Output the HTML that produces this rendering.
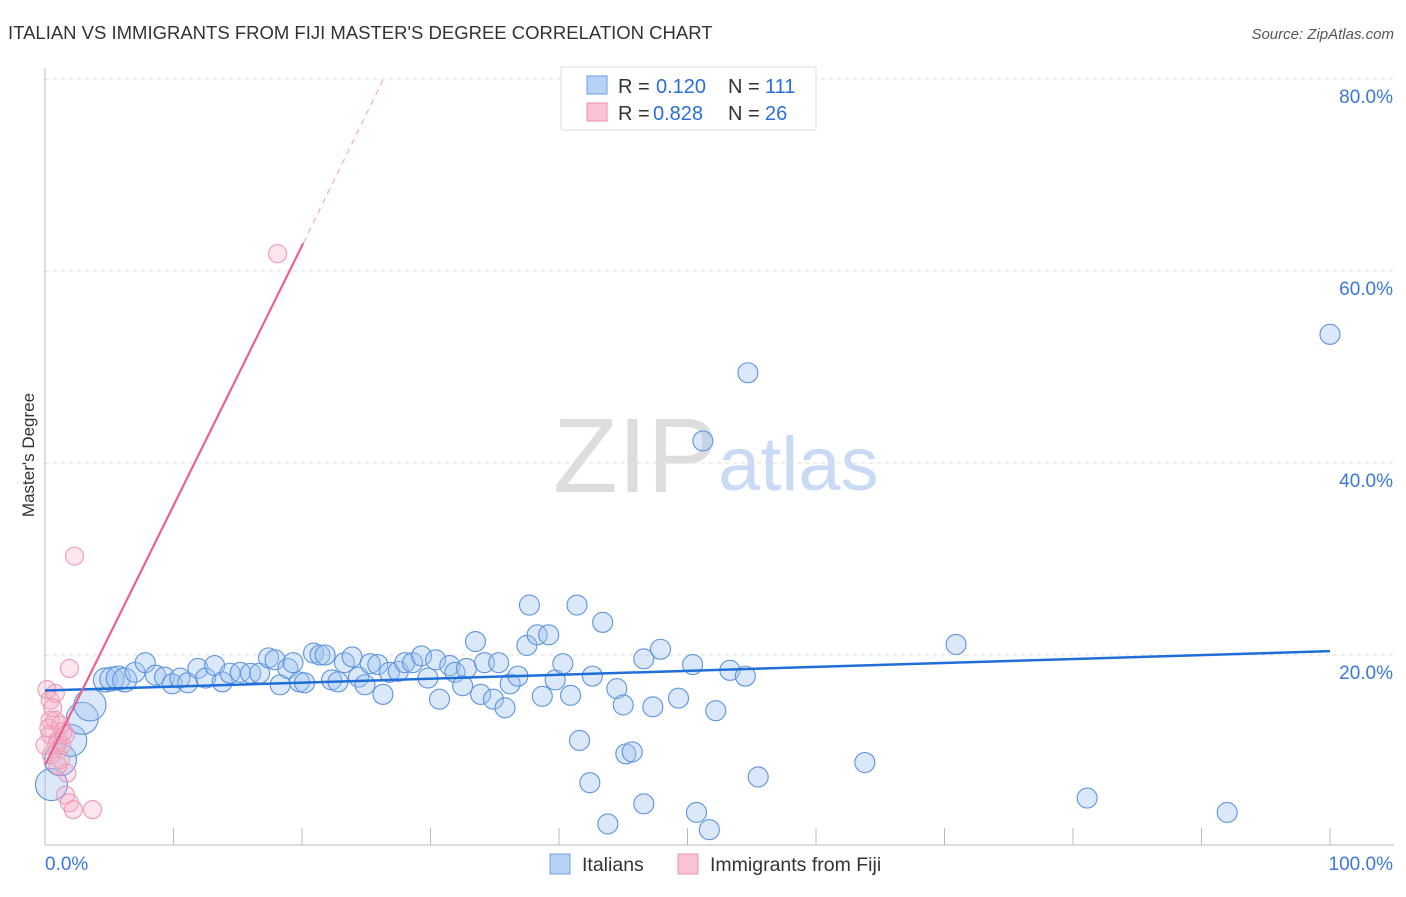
<!DOCTYPE html>
<html><head><meta charset="utf-8"><style>
body{margin:0;background:#fff;font-family:"Liberation Sans",sans-serif;}
svg text{font-family:"Liberation Sans",sans-serif;}
</style></head><body>
<svg width="1406" height="892" xmlns="http://www.w3.org/2000/svg">
<text x="8" y="39" font-size="18.5" fill="#333">ITALIAN VS IMMIGRANTS FROM FIJI MASTER'S DEGREE CORRELATION CHART</text>
<text x="1394" y="39" font-size="15" fill="#555" font-style="italic" text-anchor="end">Source: ZipAtlas.com</text>
<text x="553" y="492" font-size="106" fill="#ddd" font-family="Liberation Serif">ZIP</text>
<text x="718" y="490" font-size="76" fill="#c9daf4">atlas</text>
<g id="grid"></g>
<g id="axes"></g>
<g id="marks"></g>
<text transform="translate(34,455) rotate(-90)" font-size="17" fill="#333" text-anchor="middle">Master's Degree</text>
<g>
<rect x="561" y="67" width="255" height="63" fill="#fff" stroke="#ddd"/>
<rect x="587" y="76" width="20" height="18" fill="#b8d2f5" stroke="#6a9ee0"/>
<rect x="587" y="103" width="20" height="18" fill="#f9c4d3" stroke="#ec8fac"/>
<g font-size="20">
<text x="618" y="93" fill="#333">R =</text><text x="656" y="93" fill="#2a6fd6">0.120</text>
<text x="728" y="93" fill="#333">N =</text><text x="765" y="93" fill="#2a6fd6">111</text></g>
<g font-size="20">
<text x="618" y="120" fill="#333">R =</text><text x="653" y="120" fill="#2a6fd6">0.828</text>
<text x="728" y="120" fill="#333">N =</text><text x="765" y="120" fill="#2a6fd6">26</text></g>
</g>
<g>
<rect x="550" y="854" width="20" height="20" fill="#b8d2f5" stroke="#6a9ee0"/>
<text x="582" y="871" font-size="19.5" fill="#333">Italians</text>
<rect x="678" y="854" width="20" height="20" fill="#f9c4d3" stroke="#ec8fac"/>
<text x="710" y="871" font-size="19.5" fill="#333">Immigrants from Fiji</text>
</g>
</svg>
<script>
const yTicks=[20,40,60,80];
const yTickLabels=["20.0%","40.0%","60.0%","80.0%"];
const xTicks=[0,10,20,30,40,50,60,70,80,90,100];
const italiansX=[0.5,1.2,2.0,2.9,3.5,4.7,5.2,5.7,6.2,7.0,7.8,8.6,9.3,9.9,10.5,11.1,11.9,12.5,13.2,13.8,14.4,15.2,16.0,16.7,17.4,17.9,18.3,18.9,19.3,19.8,20.2,20.9,21.4,21.8,22.3,22.8,23.3,23.9,24.4,24.9,25.3,25.9,26.3,26.8,27.5,28.0,28.6,29.3,29.8,30.4,30.7,31.5,31.9,32.5,32.8,33.5,33.9,34.2,34.9,35.3,35.8,36.2,36.8,37.5,37.7,38.3,38.7,39.2,39.7,40.3,40.9,41.4,41.6,42.4,42.6,43.4,43.8,44.5,45.0,45.2,45.7,46.6,46.6,47.3,47.9,49.3,50.4,50.7,51.2,51.7,52.2,53.3,54.5,54.7,55.5,63.8,70.9,81.1,92.0,100];
const italiansY=[6.5,9.1,11.1,13.4,14.8,17.4,17.5,17.6,17.4,18.2,19.2,17.9,17.7,17.0,17.6,17.1,18.6,17.6,18.9,17.2,18.1,18.2,18.1,18.1,19.7,19.5,16.9,18.6,19.2,17.2,17.1,20.2,20.0,20.0,17.4,17.2,19.2,19.8,17.7,16.9,19.1,19.0,15.9,18.2,18.3,19.2,19.2,19.9,17.6,19.5,15.4,18.9,18.2,16.8,18.6,21.4,15.9,19.2,15.4,19.2,14.5,17.0,17.8,21.0,25.2,22.1,15.7,22.1,17.4,19.1,15.8,25.2,11.1,6.7,17.8,23.4,2.4,16.5,14.8,9.7,9.9,4.5,19.6,14.6,20.6,15.5,19.0,3.6,42.3,1.8,14.2,18.4,17.8,49.4,7.3,8.8,21.1,5.1,3.6,53.4];
const fijiX=[0.15,0.4,0.8,0.4,0.8,1.2,0.4,1.0,1.3,1.6,0.5,1.2,1.7,1.6,1.9,2.2,3.7,1.9,2.3,18.1,0.9,0.0,0.6,1.4,0.3,1.0];
const fijiY=[16.4,15.3,16.0,13.2,13.2,12.7,11.7,11.1,10.6,11.7,9.6,9.1,7.7,5.4,4.6,3.9,3.9,18.6,30.3,61.8,10.6,10.6,14.5,12.0,12.4,8.5];
const blueTrend=[[0,16.3],[100,20.4]];
const pinkTrend=[[0,8.5],[20.1,62.9]];
const pinkDash=[[20.1,62.9],[26.3,79.9]];
const NS="http://www.w3.org/2000/svg";
const X=v=>45+v*12.85, Y=v=>847-v*9.6;
function mk(t,a,p){const e=document.createElementNS(NS,t);for(const k in a)e.setAttribute(k,a[k]);p.appendChild(e);return e;}
const grid=document.getElementById('grid'),axes=document.getElementById('axes'),marks=document.getElementById('marks');
yTicks.forEach((t,i)=>{
 const l=mk('line',{x1:45,x2:1394,y1:Y(t),y2:Y(t),stroke:'#ddd','stroke-dasharray':'4,4'},grid);
 
 
 const tx=mk('text',{x:1393,y:Y(t)+24,'font-size':19,fill:'#3b78d8','text-anchor':'end'},axes);
 tx.textContent=yTickLabels[i];
 
 
});
let a=mk('line',{x1:45,x2:45,y1:68,y2:845,stroke:'#bbb'},axes);


a=mk('line',{x1:45,x2:1394,y1:845,y2:845,stroke:'#bbb'},axes);


xTicks.forEach(t=>{if(t===0)return;
 const l=mk('line',{x1:X(t),x2:X(t),y1:828,y2:845,stroke:'#bbb'},axes);
 
 
});
let t0=mk('text',{x:45,y:870,'font-size':19,fill:'#3b78d8'},axes);t0.textContent='0.0%';


t0=mk('text',{x:1393,y:870,'font-size':19,fill:'#3b78d8','text-anchor':'end'},axes);t0.textContent='100.0%';


italiansX.forEach((x,i)=>{
 const r=x<4?16:(x<7?12:10);
 const c=mk('circle',{cx:X(x),cy:Y(italiansY[i]),r:r,fill:'rgba(160,195,240,0.38)',stroke:'#5b93e0','stroke-width':1.1},marks);
 
 
});
fijiX.forEach((x,i)=>{
 const c=mk('circle',{cx:X(x),cy:Y(fijiY[i]),r:9,fill:'rgba(245,170,195,0.3)',stroke:'#ee9ab4','stroke-width':1.1},marks);
 
 
});
let tl=mk('line',{x1:X(blueTrend[0][0]),y1:Y(blueTrend[0][1]),x2:X(blueTrend[1][0]),y2:Y(blueTrend[1][1]),stroke:'#1f6fd6','stroke-width':2.5},marks);


tl=mk('line',{x1:X(pinkTrend[0][0]),y1:Y(pinkTrend[0][1]),x2:X(pinkTrend[1][0]),y2:Y(pinkTrend[1][1]),stroke:'#e8638d','stroke-width':2.2},marks);


tl=mk('line',{x1:X(pinkDash[0][0]),y1:Y(pinkDash[0][1]),x2:X(pinkDash[1][0]),y2:Y(pinkDash[1][1]),stroke:'#f0a0b8','stroke-width':1,'stroke-dasharray':'6,5'},marks);


</script>
</body></html>
